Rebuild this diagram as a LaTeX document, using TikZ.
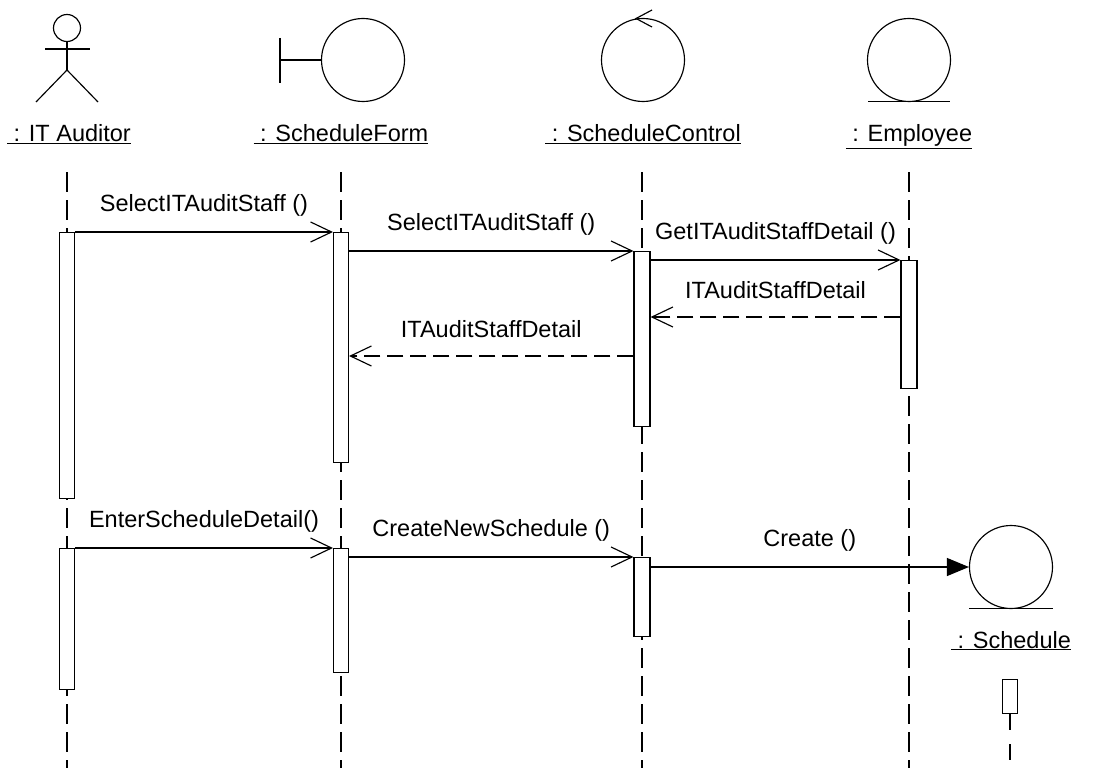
\documentclass[tikz,border=0pt]{standalone}
\usepackage{fontspec}
\setmainfont{Liberation Sans}
\usetikzlibrary{arrows.meta}

\begin{document}
\begin{tikzpicture}[x=1pt, y=-1pt, line width=1.15pt,
    font=\fontsize{23.5}{27}\selectfont,
    obj/.style={circle, draw, minimum size=83pt, inner sep=0pt},
    act/.style={draw, fill=white, minimum width=15pt, inner sep=0pt, anchor=north},
    objname/.style={anchor=base},
    life/.style={dash pattern=on 20pt off 8pt},
    msg/.style={-{Straight Barb[length=21pt, width=20pt]}},
    ret/.style={dash pattern=on 16pt off 7pt, -{Straight Barb[length=21pt, width=20pt]}},
    create/.style={-{Triangle[length=22pt, width=18pt]}},
    msglabel/.style={midway, anchor=center, yshift=27pt}]
    \useasboundingbox (0,0) rectangle (1096,768);
    \draw (67,28) circle (13.5);
    \draw (45,49) -- (90,49);
    \draw (67,41.5) -- (67,70);
    \draw (36,102) -- (67,70) -- (98,102);
    \node[obj] (form) at (363,60) {};
    \draw (form.west) -- ++(-42,0);
    \draw (280,38) -- (280,83);
    \node[obj] (ctrl) at (643,60) {};
    \draw (652,10) -- (636,18.5) -- (652,27);
    \node[obj] (emp) at (909,60) {};
    \draw (868,101.5) -- (950,101.5);
    \node[objname] (lAud) at (69,142) {\underline{~: IT Auditor}};
    \node[objname] (lForm) at (341,142) {\underline{~: ScheduleForm}};
    \node[objname] (lCtrl) at (643,142) {\underline{~: ScheduleControl}};
    \node[objname] (lEmp) at (909,142) {\underline{~: Employee}};
    \draw[life] (67,172) -- (67,768);
    \draw[life] (341,172) -- (341,768);
    \draw[life] (642,172) -- (642,768);
    \draw[life] (909,172) -- (909,768);
    \node[act, minimum height=266pt] (aud1) at (67,232) {};
    \node[act, minimum height=230pt] (form1) at (341,232) {};
    \node[act, minimum height=175pt, minimum width=16pt] (ctrl1) at (642,251) {};
    \node[act, minimum height=128pt, minimum width=16pt] (emp1) at (909,260) {};
    \node[act, minimum height=141pt] (aud2) at (67,548) {};
    \node[act, minimum height=124pt] (form2) at (341,548) {};
    \node[act, minimum height=79pt, minimum width=16pt] (ctrl2) at (642,557) {};
    \draw[msg] (aud1.north east) -- (form1.north west) node[msglabel] {SelectITAuditStaff ()};
    \draw[msg] (form1.east |- ctrl1.north) -- (ctrl1.north west) node[msglabel] {SelectITAuditStaff ()};
    \draw[msg] (ctrl1.east |- emp1.north) -- (emp1.north west) node[msglabel] {GetITAuditStaffDetail ()};
    \coordinate (r1) at ([yshift=-57pt]emp1.north west);
    \draw[ret] (r1) -- (r1 -| ctrl1.east) node[msglabel] {ITAuditStaffDetail};
    \coordinate (r2) at ([yshift=-105pt]ctrl1.north west);
    \draw[ret] (r2) -- (r2 -| form1.east) node[msglabel] {ITAuditStaffDetail};
    \draw[msg] (aud2.north east) -- (form2.north west) node[msglabel] {EnterScheduleDetail()};
    \draw[msg] (form2.east |- ctrl2.north) -- (ctrl2.north west) node[msglabel] {CreateNewSchedule ()};
    \node[obj] (sched) at (1011,567) {};
    \draw (969,608.5) -- (1053,608.5);
    \draw[create] (ctrl2.east |- sched.west) -- (sched.west) node[msglabel] {Create ()};
    \node[objname] (lSched) at (1011,648) {\underline{~: Schedule}};
    \node[act, minimum height=34pt] (sAct) at (1010,679) {};
    \draw[dash pattern=on 16pt off 14pt] (sAct.south) -- ++(0,55);
\end{tikzpicture}
\end{document}
